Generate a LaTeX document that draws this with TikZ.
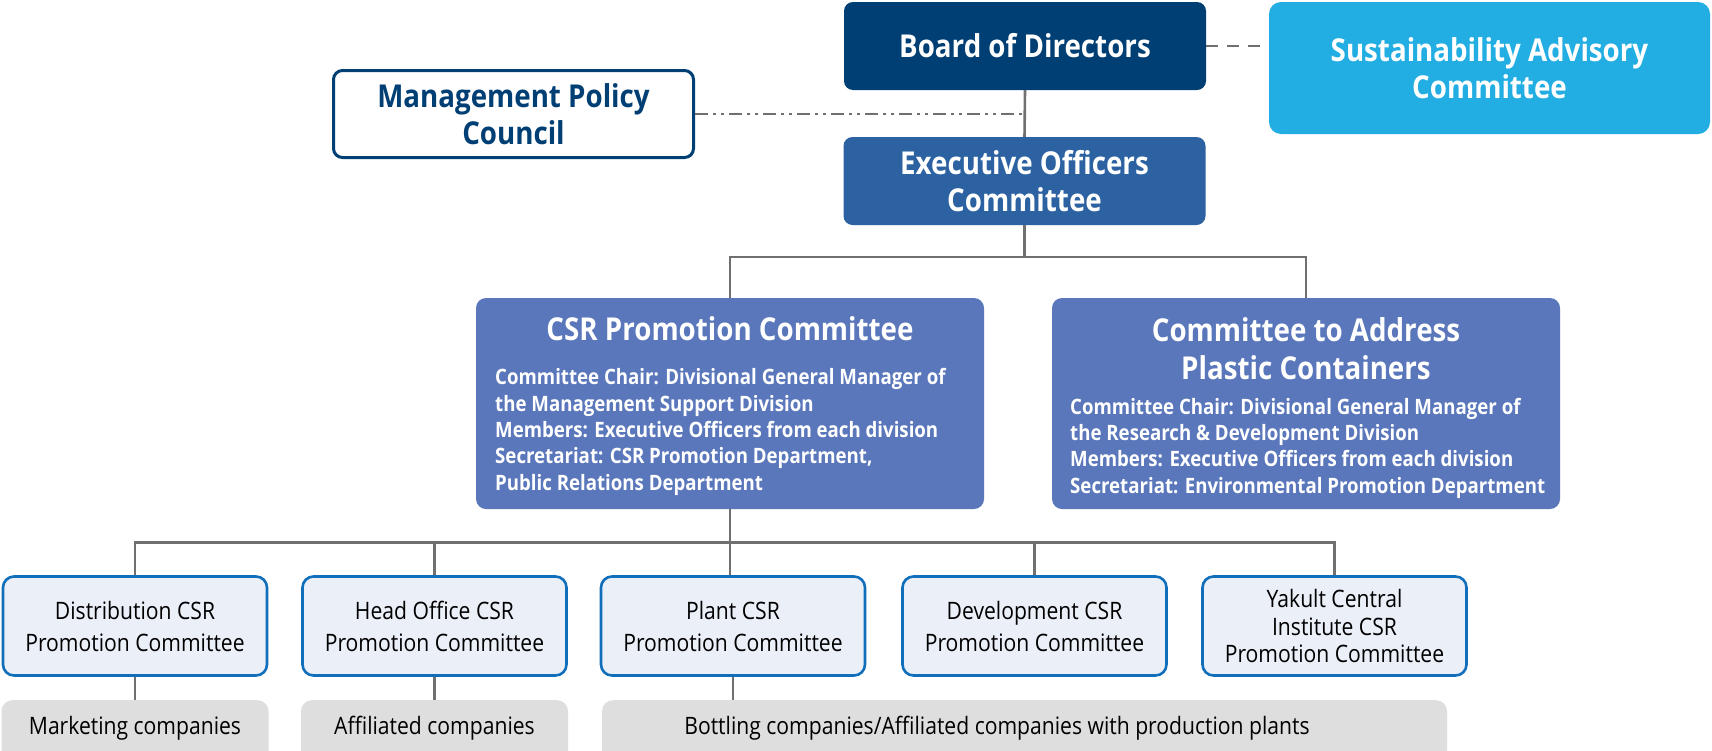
\documentclass[tikz,border=0pt]{standalone}
\usepackage{fontspec}
\setmainfont{Open Sans}[FakeStretch=0.88]
\definecolor{navy}{RGB}{0,63,116}
\definecolor{sky}{RGB}{34,174,227}
\definecolor{execblue}{RGB}{44,98,161}
\definecolor{csrblue}{RGB}{90,119,187}
\definecolor{paleblue}{RGB}{234,239,248}
\definecolor{edgeblue}{RGB}{16,110,186}
\definecolor{greybox}{RGB}{221,222,221}
\definecolor{linegray}{RGB}{112,112,112}
\begin{document}
\begin{tikzpicture}[x=1pt,y=-1pt,
  conn/.style={draw=linegray, line width=2.6pt},
  topbox/.style={rectangle, rounded corners=9pt, inner sep=0pt, align=center, text=white,
    font=\bfseries\fontsize{31.5}{37}\selectfont, minimum width=362pt, minimum height=88pt},
  bigbox/.style={rectangle, rounded corners=10pt, fill=csrblue, inner sep=0pt,
    minimum width=508pt, minimum height=211pt},
  bigtitle/.style={inner sep=0pt, align=center, text=white, font=\bfseries\fontsize{31.5}{38}\selectfont},
  detail/.style={inner sep=0pt, align=left, text=white, anchor=west, font=\bfseries\fontsize{21.2}{26.3}\selectfont},
  subbox/.style={rectangle, rounded corners=11pt, fill=paleblue, draw=edgeblue, line width=2.6pt,
    inner sep=0pt, align=center, minimum width=264pt, minimum height=99pt,
    font=\fontsize{24}{32}\selectfont},
  grey/.style={rectangle, rounded corners=11pt, fill=greybox, inner sep=0pt,
    minimum height=70pt, font=\fontsize{24}{28}\selectfont},
]
\useasboundingbox (0,0) rectangle (1712,750);
\fill[white] (0,0) rectangle (1712,750);

% top level
\node[topbox, fill=navy] (board) at (1025,46) {Board of Directors};
\node[topbox, fill=sky, minimum width=441pt, minimum height=132pt, rounded corners=12pt] (sus) at (1489.5,68) {Sustainability Advisory\\Committee};
\node[topbox, fill=white, draw=navy, line width=3pt, text=navy, minimum width=360pt, minimum height=87pt] (mpc) at (513.5,114) {Management Policy\\Council};
\node[topbox, fill=execblue] (exec) at (1024.5,181) {Executive Officers\\Committee};

% committees
\node[bigbox] (csr) at (730,403.5) {};
\node[bigtitle] (csrt) at (730,329) {CSR Promotion Committee};
\node[detail] (csrd) at (495,432) {Committee Chair: Divisional General Manager of\\the Management Support Division\\Members: Executive Officers from each division\\Secretariat: CSR Promotion Department,\\Public Relations Department};

\node[bigbox] (pla) at (1306,403.5) {};
\node[bigtitle] (plat) at (1306,349) {Committee to Address\\Plastic Containers};
\node[detail] (plad) at (1070,448) {Committee Chair: Divisional General Manager of\\the Research \& Development Division\\Members: Executive Officers from each division\\Secretariat: Environmental Promotion Department};

% sub committees
\node[subbox] (b1) at (135,626) {Distribution CSR\\Promotion Committee};
\node[subbox] (b2) at (434.5,626) {Head Office CSR\\Promotion Committee};
\node[subbox] (b3) at (733,626) {Plant CSR\\Promotion Committee};
\node[subbox] (b4) at (1034.5,626) {Development CSR\\Promotion Committee};
\node[subbox, font=\fontsize{24}{27.5}\selectfont] (b5) at (1334.5,626) {Yakult Central\\Institute CSR\\Promotion Committee};

% connectors
\draw[conn] (board.south) -- (exec.north);
\draw[conn, dash pattern=on 13pt off 5pt on 3pt off 5pt on 3pt off 5pt] (mpc.east) -- (mpc.east -| board.south);
\draw[conn, dash pattern=on 12pt off 9pt] (board.east) -- (board.east -| sus.west);
\draw[conn] (exec.south) -- (exec.south |- 0,257);
\draw[conn] (csr.north) -- ++(0,-41) -| (pla.north);
\draw[conn] (csr.south) -- (csr.south |- b3.north);
\draw[conn] (b1.north) -- ++(0,-33) -| (b5.north);
\draw[conn] (b2.north) -- ++(0,-33);
\draw[conn] (b4.north) -- ++(0,-33);

% affiliated
\begin{scope}
\clip (0,0) rectangle (1712,750);
\node[grey, minimum width=267pt, anchor=north] (g1) at (135,700) {\raisebox{20pt}{Marketing companies}};
\node[grey, minimum width=267pt, anchor=north] (g2) at (434.5,700) {\raisebox{20pt}{Affiliated companies}};
\node[grey, minimum width=845pt, anchor=north] (g3) at (1024.5,700) {\hspace*{-55pt}\raisebox{20pt}{Bottling companies/Affiliated companies with production plants}};
\end{scope}
\draw[conn] (b1.south) -- (g1.north);
\draw[conn] (b2.south) -- (g2.north);
\draw[conn] (b3.south) -- (b3.south |- g3.north);
\end{tikzpicture}
\end{document}
